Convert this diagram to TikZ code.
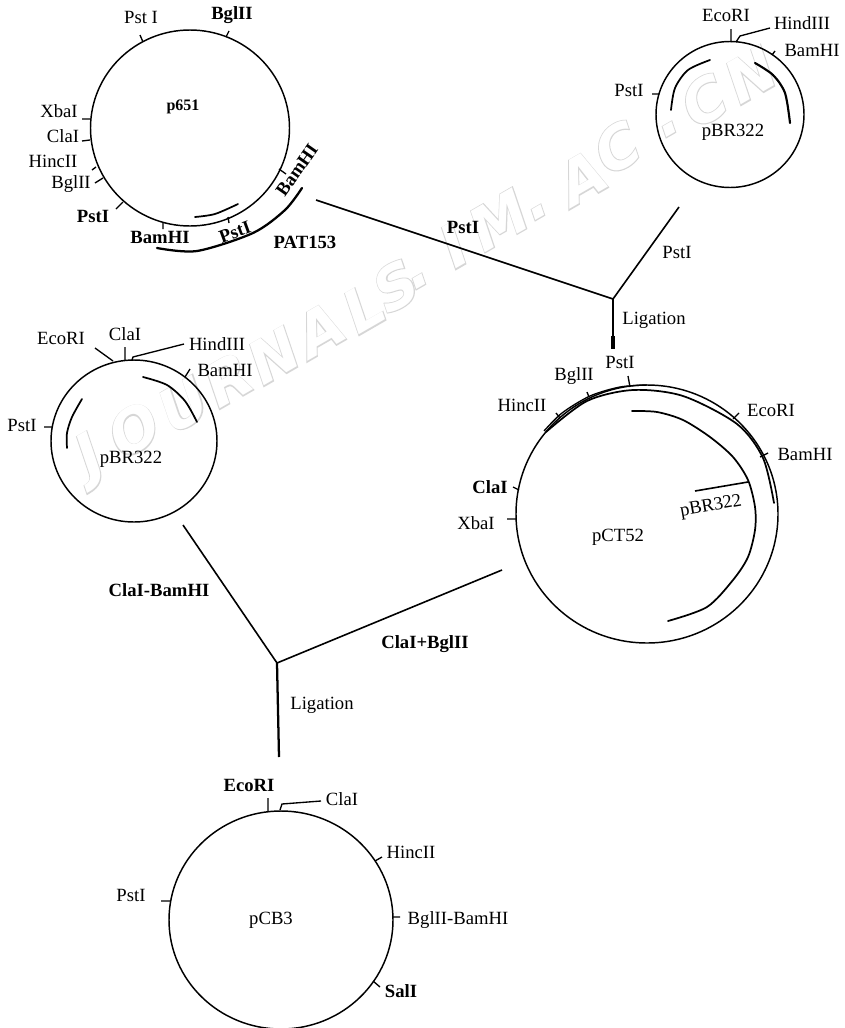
\documentclass[tikz,border=0pt]{standalone}
\usepackage{fontspec}
\usetikzlibrary{shapes.geometric}
\setmainfont{Liberation Serif}
\newfontfamily\wmfat[BoldFeatures={FakeBold=3,FakeSlant=0.2}]{DejaVu Sans}
\newfontfamily\wmthin[BoldFeatures={FakeSlant=0.2}]{DejaVu Sans}
\definecolor{wm}{gray}{0.84}
\tikzset{
  lbl/.style={inner sep=0pt,font=\fontsize{14pt}{14pt}\selectfont},
  blbl/.style={inner sep=0pt,font=\fontsize{14pt}{14pt}\selectfont\bfseries},
  plasmid/.style={draw,ellipse,inner sep=0pt,outer sep=0pt,line width=1.1pt},
  tick/.style={line width=1pt},
  link/.style={line width=1.2pt},
  heavy/.style={line width=1.7pt},
  segment/.style={line width=1.3pt,line cap=round}
}
\newcommand{\plasmidat}[5]{%
  \node[plasmid,minimum width=#4*1.5pt,minimum height=#5*1.5pt] (#1) at (#2,#3) {};
}
\begin{document}
\begin{tikzpicture}[x=0.75pt,y=0.75pt,yscale=-1]
\useasboundingbox (0,0) rectangle (845,1028);
\fill[white] (0,0) rectangle (845,1028);
\clip (0,0) rectangle (845,1028);
% watermark
\foreach \n/\x/\y/\t in {a/88/462/J,b/130/432/O,c/180/407/U,d/224/382/R,e/270/358/N,f/316/332/A,g/360/310/L,h/392/288/S,i/418/282/.,j/450/248/I,k/495/222/M,l/537/213/.,m/578/180/A,n/613/150/C,o/668/130/.,p/700/103/C,q/747/77/N}{
  \node[inner sep=0pt,rotate=30,text=wm,font=\fontsize{44pt}{44pt}\wmfat\bfseries] (wf\n) at (\x,\y) {\t};
  \node[inner sep=0pt,rotate=30,text=white,font=\fontsize{44pt}{44pt}\wmthin\bfseries] (wt\n) at (\x,\y) {\t};
}
% plasmids
\plasmidat{pA}{190}{128}{99.5}{98}
\plasmidat{pB}{730}{114.5}{74}{73}
\plasmidat{pC}{134}{441}{83}{81}
\plasmidat{pD}{647}{514}{131}{129}
\plasmidat{pE}{281}{920}{112}{109}
% p651 labels
\node[lbl] (a1) at (141,17) {Pst I};
\node[blbl] (a2) at (232,15) {BglII};
\node[blbl,font=\fontsize{12pt}{12pt}\selectfont\bfseries] (a3) at (183,107) {p651};
\node[lbl] (a4) at (59,111) {XbaI};
\node[lbl] (a5) at (63,136) {ClaI};
\node[lbl] (a6) at (53,161) {HincII};
\node[lbl] (a7) at (71,184) {BglII};
\node[blbl] (a8) at (93,216) {PstI};
\node[blbl] (a9) at (160,237) {BamHI};
\node[blbl,rotate=20] (a10) at (235,232) {PstI};
\node[blbl,rotate=55] (a11) at (297,170) {BamHI};
\node[blbl] (a12) at (305,242) {PAT153};
\draw[tick] (143,42)--(140,35) (226,37)--(229,31) (90,119)--(82,119) (90,140)--(82,141)
  (96,167)--(92,170) (103,178)--(95,183) (123,202)--(116,209) (163,223)--(163,229)
  (228,217)--(229,223) (279,169)--(286,174);
\draw[segment] plot[smooth] coordinates {(195,217) (215,214) (238,204)};
\draw[heavy,line cap=round] plot[smooth] coordinates {(157,248) (197,251) (253,233) (285,210) (302,188)};
% pBR322 top right
\node[lbl] (b1) at (726,15) {EcoRI};
\node[lbl] (b2) at (802,23) {HindIII};
\node[lbl] (b3) at (812,50) {BamHI};
\node[lbl] (b4) at (629,90) {PstI};
\node[lbl] (b5) at (733,132) {pBR322};
\draw[tick] (731,29)--(731,42) (770,28)--(740,36)--(736,42) (772,55)--(775,51) (652,94)--(659,94);
\draw[segment] plot[smooth] coordinates {(710,60) (688,70) (675,88) (671,110)};
\draw[segment,line width=1.6pt] plot[smooth] coordinates {(755,63) (773,75) (785,93) (790,123)};
% pBR322 left
\node[lbl] (c1) at (61,338) {EcoRI};
\node[lbl] (c2) at (125,334) {ClaI};
\node[lbl] (c3) at (217,344) {HindIII};
\node[lbl] (c4) at (225,370) {BamHI};
\node[lbl] (c5) at (22,425) {PstI};
\node[lbl] (c6) at (131,459) {pBR322};
\draw[tick] (95,348)--(113,361) (125,347)--(125,360) (184,344)--(133,357)--(132,360)
  (190,369)--(185,377) (44,427)--(52,427);
\draw[segment] plot[smooth] coordinates {(143,377) (167,385) (185,401) (197,422)};
\draw[segment] plot[smooth] coordinates {(82,399) (72,417) (67,433) (67,448)};
% pCT52
\node[lbl] (d1) at (620,362) {PstI};
\node[lbl] (d2) at (574,376) {BglII};
\node[lbl] (d3) at (522,405) {HincII};
\node[lbl] (d4) at (771,410) {EcoRI};
\node[lbl] (d5) at (805,454) {BamHI};
\node[blbl] (d6) at (490,487) {ClaI};
\node[lbl] (d7) at (476,523) {XbaI};
\node[lbl] (d8) at (618,537) {pCT52};
\node[lbl,rotate=10] (d9) at (711,507) {pBR322};
\draw[tick] (628,376)--(630,387) (587,392)--(589,397) (556,413)--(560,418) (739,413)--(733,419)
  (768,453)--(760,457) (513,487)--(519,490) (507,519)--(516,519);
\draw[line width=1pt] plot[smooth] coordinates {(544,431) (562,413) (590,396) (620,387) (647,385)};
\draw[segment] plot[smooth] coordinates {(546,432) (587,401) (633,390) (683,396) (737,424) (763,458) (774,503)};
\draw[segment] plot[smooth] coordinates {(632,411) (657,412) (683,420) (710,437) (733,457) (748,480) (755,507) (755,530) (748,557) (733,580) (707,607) (668,621)};
\draw[link] (695,491)--(748,482);
% pCB3
\node[blbl] (e1) at (249,785) {EcoRI};
\node[lbl] (e2) at (342,799) {ClaI};
\node[lbl] (e3) at (411,852) {HincII};
\node[lbl] (e4) at (131,895) {PstI};
\node[lbl] (e5) at (271,920) {pCB3};
\node[lbl] (e6) at (458,920) {BglII-BamHI};
\node[blbl] (e7) at (401,991) {SalI};
\draw[tick] (268,798)--(268,811) (321,801)--(282,804)--(280,810) (382,857)--(375,861)
  (161,901)--(170,901) (400,917)--(393,917) (380,987)--(373,981);
% connectors
\coordinate (j1) at (613,299);
\coordinate (s1) at (316,200);
\coordinate (s2) at (679,207);
\coordinate (t1) at (613,336);
\coordinate (t2) at (613,349);
\coordinate (j2) at (277,663);
\coordinate (s3) at (183,525);
\coordinate (s4) at (502,570);
\coordinate (t3) at (279,757);
\draw[link] (s1)--(j1);
\draw[link] (s2)--(j1);
\draw[heavy] (j1)--(t1);
\draw[line width=3.6pt] (t1)--(t2);
\draw[link] (s3)--(j2);
\draw[link] (s4)--(j2);
\draw[heavy] (j2)--(t3);
\node[blbl] (f1) at (463,227) {PstI};
\node[lbl] (f2) at (677,252) {PstI};
\node[lbl] (f3) at (654,320) {Ligation};
\node[blbl] (f4) at (159,590) {ClaI-BamHI};
\node[blbl] (f5) at (425,644) {ClaI+BglII};
\node[lbl] (f6) at (322,705) {Ligation};
\end{tikzpicture}
\end{document}
